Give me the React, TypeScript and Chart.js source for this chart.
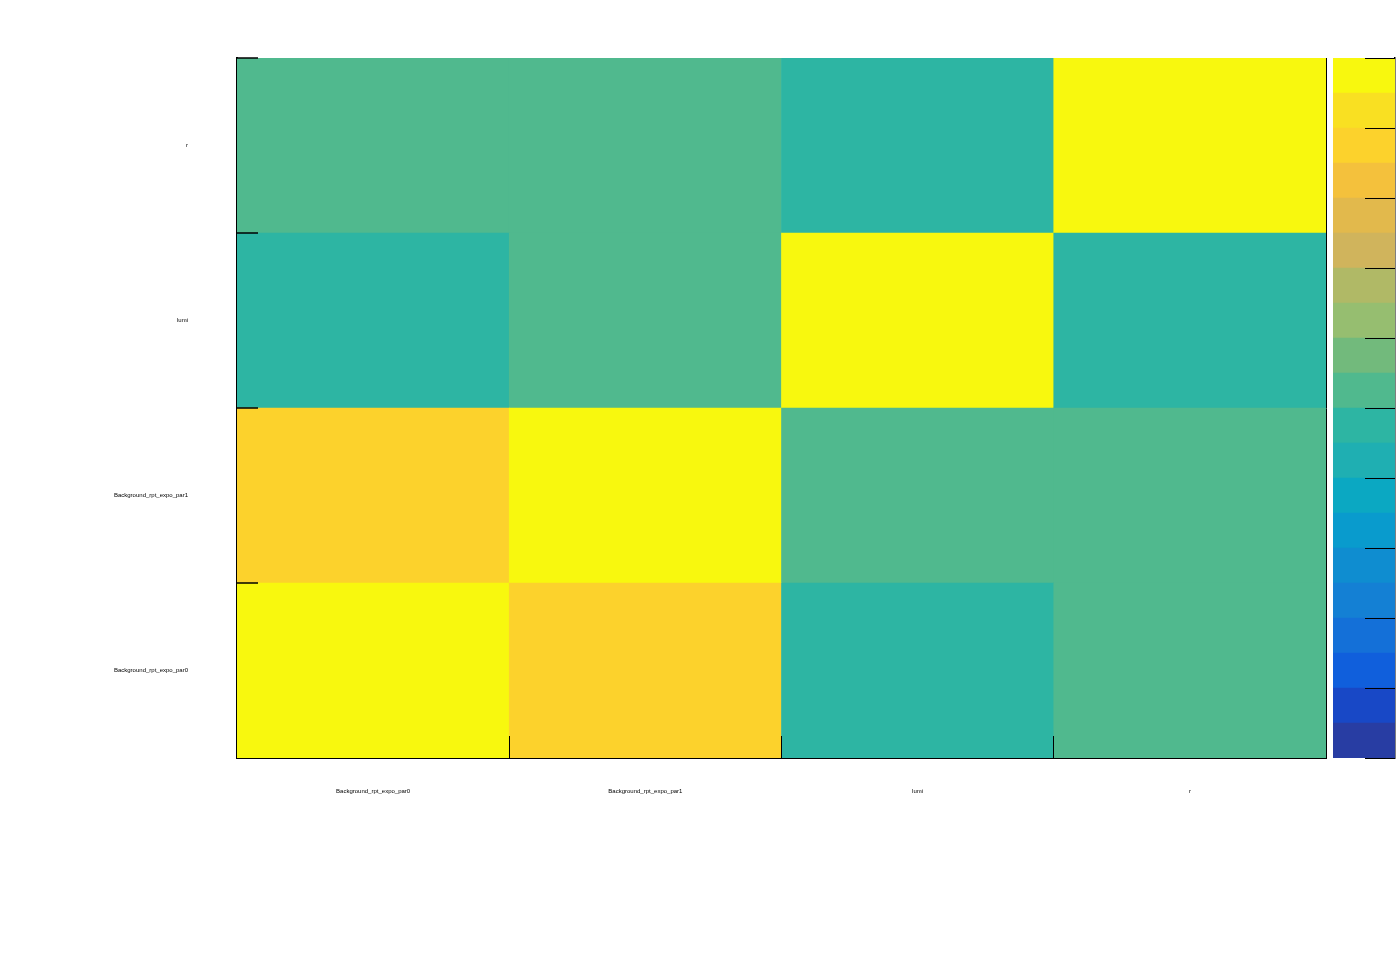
import React, { useEffect, useRef } from "react";
import { Chart, registerables } from "chart.js";

Chart.register(...registerables);

// Parameters (x categories left→right, y rows bottom→top)
const params = ["Background_rpt_expo_par0", "Background_rpt_expo_par1", "lumi", "r"];

// Correlation rows (bottom→top); each row lists values for the x columns
const rowPar0 = [1.0, 0.76, -0.03, 0.04];
const rowPar1 = [0.76, 1.0, 0.05, 0.03];
const rowLumi = [-0.03, 0.05, 1.0, -0.04];
const rowR = [0.04, 0.03, -0.04, 1.0];
const rows = [rowPar0, rowPar1, rowLumi, rowR];

// 20-step palette, bottom (-1) → top (+1)
const paletteColors = [
  "#283da3", "#1848c6", "#105fdc", "#1470d8", "#1480d4",
  "#0f8dd0", "#099bcd", "#0ba8c2", "#1fafb2", "#2db5a3",
  "#50b98e", "#72ba7c", "#96be70", "#b0b966", "#d0b45c",
  "#e2b94c", "#f4c13c", "#fcd22c", "#f9e022", "#f8f80e",
];
const zMin = -1;
const zMax = 1;
const colorTicks = [-1, -0.8, -0.6, -0.4, -0.2, 0, 0.2, 0.4, 0.6, 0.8, 1];

const FONT = "'Liberation Sans', Arial, Helvetica, sans-serif";

function colorFor(v: number): string {
  const n = paletteColors.length;
  let idx = Math.floor(((v - zMin) / (zMax - zMin)) * n);
  if (idx < 0) idx = 0;
  if (idx > n - 1) idx = n - 1;
  return paletteColors[idx];
}

const frameTicks = {
  id: "frameTicks",
  afterDraw(chart: any) {
    const ctx = chart.ctx;
    const xs = chart.scales.x;
    const ys = chart.scales.y;
    const area = chart.chartArea;
    ctx.save();
    ctx.strokeStyle = "#000";
    // x ticks (inward, at cell boundaries)
    ctx.lineWidth = 1;
    for (let k = 0; k < params.length; k++) {
      const px = Math.floor(xs.getPixelForValue(k + 0.5)) + 0.5;
      ctx.beginPath();
      ctx.moveTo(px, area.bottom);
      ctx.lineTo(px, area.bottom - 22);
      ctx.stroke();
    }
    // y ticks (inward, at row boundaries)
    ctx.lineWidth = 1.5;
    for (let k = 1; k <= params.length; k++) {
      const py = ys.getPixelForValue(k);
      ctx.beginPath();
      ctx.moveTo(area.left, py);
      ctx.lineTo(area.left + 21, py);
      ctx.stroke();
    }
    ctx.restore();
  },
};

const paletteTicks = {
  id: "paletteTicks",
  afterDraw(chart: any) {
    const ctx = chart.ctx;
    const ys = chart.scales.y;
    const area = chart.chartArea;
    ctx.save();
    ctx.strokeStyle = "#000";
    ctx.lineWidth = 1;
    colorTicks.forEach((v) => {
      const py = Math.round(ys.getPixelForValue(v)) + 0.5;
      ctx.beginPath();
      ctx.moveTo(area.right, py);
      ctx.lineTo(area.right - 30, py);
      ctx.stroke();
    });
    ctx.restore();
  },
};

export default function App() {
  const mainRef = useRef<HTMLCanvasElement | null>(null);
  const barRef = useRef<HTMLCanvasElement | null>(null);

  useEffect(() => {
    Chart.defaults.font.family = FONT;
    const datasets = rows.map((row, r) => ({
      label: params[r],
      data: row.map(() => [r, r + 1]),
      backgroundColor: row.map((v) => colorFor(v)),
      borderWidth: 0,
      barPercentage: 1,
      categoryPercentage: 1,
    }));

    const main = new Chart(mainRef.current!, {
      type: "bar",
      data: { labels: params, datasets: datasets as any },
      options: {
        animation: false,
        responsive: false,
        events: [],
        layout: { padding: { top: 58, right: 4, left: 0, bottom: 0 } },
        plugins: { legend: { display: false }, tooltip: { enabled: false }, title: { display: false } },
        scales: {
          x: {
            type: "category",
            stacked: true,
            offset: true,
            grid: { display: false, drawTicks: false },
            border: { display: true, color: "#000", width: 2 },
            ticks: { font: { size: 6, family: FONT }, color: "#000", padding: 30, maxRotation: 0, autoSkip: false },
            afterFit: (s: any) => { s.height = 102; },
          },
          y: {
            type: "linear",
            min: 0,
            max: 4,
            stacked: false,
            grid: { display: false, drawTicks: false },
            border: { display: true, color: "#000", width: 2 },
            afterBuildTicks: (s: any) => { s.ticks = [0.5, 1.5, 2.5, 3.5].map((v) => ({ value: v })); },
            ticks: {
              font: { size: 6, family: FONT },
              color: "#000",
              padding: 49,
              callback: (v: any) => params[Math.floor(Number(v))],
            },
            afterFit: (s: any) => { s.width = 237; },
          },
          y2: {
            type: "linear",
            position: "right",
            min: 0,
            max: 4,
            grid: { display: false, drawTicks: false },
            border: { display: true, color: "#000", width: 1 },
            ticks: { display: false },
            afterFit: (s: any) => { s.width = 0; },
          },
        },
      },
      plugins: [frameTicks],
    });

    const barDatasets = paletteColors.map((c, i) => ({
      label: "z" + i,
      data: [[zMin + (i * (zMax - zMin)) / paletteColors.length, zMin + ((i + 1) * (zMax - zMin)) / paletteColors.length]],
      backgroundColor: c,
      borderWidth: 0,
      barPercentage: 1,
      categoryPercentage: 1,
    }));

    const bar = new Chart(barRef.current!, {
      type: "bar",
      data: { labels: ["z"], datasets: barDatasets as any },
      options: {
        animation: false,
        responsive: false,
        events: [],
        layout: { padding: { top: 58, right: 0, left: 3, bottom: 102 } },
        plugins: { legend: { display: false }, tooltip: { enabled: false } },
        scales: {
          x: { type: "category", stacked: true, display: false, offset: true },
          y: {
            type: "linear",
            position: "right",
            min: zMin,
            max: zMax,
            stacked: false,
            grid: { display: false, drawTicks: false },
            border: { display: true, color: "#000", width: 1.5 },
            ticks: { display: false },
            afterFit: (s: any) => { s.width = 1; },
          },
        },
      },
      plugins: [paletteTicks],
    });

    return () => {
      main.destroy();
      bar.destroy();
    };
  }, []);

  return (
    <div style={{ position: "absolute", left: 0, top: 0, width: 1396, height: 972, background: "#fff", overflow: "hidden" }}>
      <canvas ref={mainRef} width={1330} height={860} style={{ position: "absolute", left: 0, top: 0, display: "block" }} />
      <canvas ref={barRef} width={66} height={860} style={{ position: "absolute", left: 1330, top: 0, display: "block" }} />
    </div>
  );
}
